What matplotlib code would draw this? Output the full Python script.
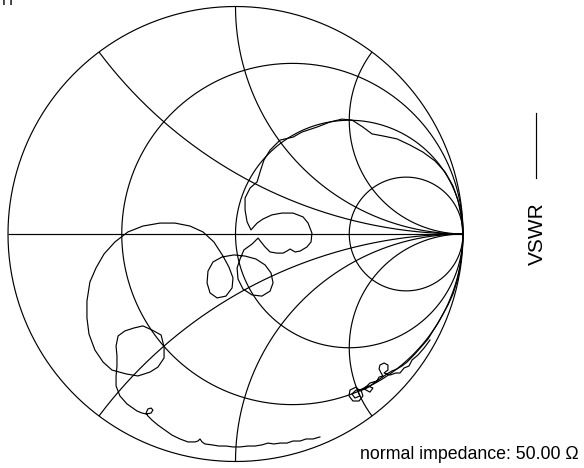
import numpy as np
import matplotlib
matplotlib.use("Agg")
import matplotlib.pyplot as plt
from matplotlib.lines import Line2D

# Smith chart grid values
resistance_circles = [1/3, 1.0, 3.0]
reactance_arcs = [0.5, 1.0, 2.0]
z0_label = "normal impedance: 50.00 \u03a9"
legend_label = "VSWR"

# Measured reflection coefficient trace (real / imaginary part of Gamma)
gamma_re = [0.371, 0.341, 0.310, 0.284, 0.253, 0.226, 0.196, 0.169, 0.143, 0.116,
            0.086, 0.055, 0.020, -0.011, -0.042, -0.073, -0.103, -0.134, -0.147, -0.156,
            -0.165, -0.178, -0.209, -0.244, -0.279, -0.310, -0.341, -0.367, -0.385, -0.393,
            -0.385, -0.371, -0.363, -0.371, -0.393, -0.411, -0.433, -0.477, -0.508, -0.525,
            -0.525, -0.521, -0.521, -0.525, -0.516, -0.486, -0.446, -0.407, -0.367, -0.327,
            -0.314, -0.314, -0.341, -0.376, -0.429, -0.481, -0.543, -0.582, -0.618, -0.644,
            -0.653, -0.653, -0.640, -0.613, -0.578, -0.530, -0.473, -0.407, -0.332, -0.266,
            -0.200, -0.143, -0.095, -0.055, -0.029, -0.011, -0.015, -0.042, -0.081, -0.112,
            -0.125, -0.121, -0.099, -0.059, -0.007, 0.042, 0.090, 0.130, 0.156, 0.165,
            0.152, 0.116, 0.073, 0.033, 0.011, 0.007, 0.020, 0.037, 0.073, 0.099,
            0.130, 0.152, 0.182, 0.209, 0.226, 0.240, 0.262, 0.284, 0.314, 0.332,
            0.336, 0.319, 0.297, 0.253, 0.204, 0.160, 0.121, 0.095, 0.068, 0.051,
            0.042, 0.042, 0.064, 0.095, 0.108, 0.125, 0.152, 0.196, 0.253, 0.292,
            0.358, 0.415, 0.468, 0.512, 0.560, 0.600, 0.648, 0.710, 0.767, 0.824,
            0.877, 0.921, 0.956, 0.978, 0.991, 1.000,
            0.996, 0.987, 0.974, 0.956, 0.934, 0.912, 0.890, 0.868, 0.846, 0.820,
            0.789, 0.754, 0.732, 0.710, 0.688, 0.666, 0.635, 0.604, 0.578, 0.547,
            0.530, 0.503, 0.499, 0.516, 0.543, 0.560, 0.552,
            0.530, 0.512, 0.525, 0.547, 0.538,
            0.582, 0.604, 0.591, 0.565, 0.591, 0.622, 0.631, 0.648,
            0.640, 0.631, 0.635, 0.653, 0.670, 0.670, 0.653,
            0.679, 0.705, 0.723, 0.741, 0.763, 0.776, 0.802, 0.829, 0.855]
gamma_im = [-0.892, -0.901, -0.901, -0.910, -0.910, -0.919, -0.919, -0.923, -0.919, -0.927,
            -0.932, -0.932, -0.936, -0.936, -0.932, -0.932, -0.927, -0.923, -0.914, -0.901,
            -0.910, -0.914, -0.914, -0.901, -0.884, -0.862, -0.840, -0.818, -0.800, -0.787,
            -0.769, -0.765, -0.774, -0.787, -0.791, -0.787, -0.778, -0.747, -0.712, -0.668,
            -0.624, -0.580, -0.536, -0.492, -0.448, -0.426, -0.413, -0.404, -0.422, -0.444,
            -0.497, -0.545, -0.585, -0.607, -0.624, -0.615, -0.598, -0.563, -0.510, -0.440,
            -0.369, -0.295, -0.211, -0.149, -0.088, -0.035, 0.009, 0.035, 0.048, 0.048,
            0.035, 0.009, -0.035, -0.097, -0.145, -0.193, -0.237, -0.273, -0.281, -0.259,
            -0.215, -0.163, -0.123, -0.101, -0.092, -0.097, -0.110, -0.136, -0.171, -0.215,
            -0.251, -0.273, -0.268, -0.242, -0.198, -0.149, -0.110, -0.070, -0.044, -0.018,
            -0.057, -0.079, -0.084, -0.084, -0.075, -0.066, -0.079, -0.075, -0.057, -0.035,
            0.004, 0.048, 0.075, 0.092, 0.092, 0.084, 0.066, 0.048, 0.018, 0.053,
            0.105, 0.158, 0.202, 0.229, 0.273, 0.325, 0.369, 0.413, 0.426, 0.448,
            0.470, 0.492, 0.505, 0.501, 0.470, 0.440, 0.431, 0.418, 0.391, 0.360,
            0.321, 0.273, 0.211, 0.149, 0.084, 0.000,
            -0.070, -0.145, -0.207, -0.264, -0.312, -0.352, -0.391, -0.426, -0.462, -0.492,
            -0.527, -0.563, -0.580, -0.593, -0.602, -0.615, -0.637, -0.659, -0.677, -0.690,
            -0.673, -0.686, -0.712, -0.734, -0.734, -0.712, -0.686,
            -0.686, -0.703, -0.721, -0.712, -0.690,
            -0.668, -0.677, -0.695, -0.681, -0.655, -0.646, -0.629, -0.624,
            -0.611, -0.593, -0.576, -0.567, -0.576, -0.598, -0.611,
            -0.620, -0.611, -0.611, -0.589, -0.580, -0.554, -0.532, -0.501, -0.466]

W, H = 584, 468
fig = plt.figure(figsize=(W / 100, H / 100), dpi=100)
fig.patch.set_facecolor("white")

cx, cy, R = 235.5, 234.0, 227.5
ax = fig.add_axes([(cx - R) / W, (H - cy - R) / H, 2 * R / W, 2 * R / H])
ax.set_xlim(-1, 1)
ax.set_ylim(-1, 1)
ax.axis("off")

lw = 0.85
kw = dict(color="black", lw=lw, clip_on=False, solid_capstyle="butt")

# outer circle
t = np.linspace(0, 2 * np.pi, 721)
ax.plot(np.cos(t), np.sin(t), **kw)
# real axis
ax.plot([-1, 1], [0, 0], **kw)

# constant resistance circles
for r in resistance_circles:
    c, rad = r / (1 + r), 1 / (1 + r)
    ax.plot(c + rad * np.cos(t), rad * np.sin(t), **kw)

# constant reactance arcs
rr = np.concatenate([np.linspace(0, 1, 200), np.logspace(0, 4, 400)])
for x in reactance_arcs:
    for s in (1, -1):
        z = rr + 1j * s * x
        g = (z - 1) / (z + 1)
        ax.plot(g.real, g.imag, **kw)

# measured trace
ax.plot(gamma_re, gamma_im, color="black", lw=lw, clip_on=False)

fam = ["Liberation Sans", "DejaVu Sans"]
fig.text(360 / W, 1 - 459 / H, z0_label, fontsize=12.8, family=fam,
         ha="left", va="baseline", color="black")

# legend (rotated)
fig.add_artist(Line2D([536 / W, 536 / W], [1 - 113 / H, 1 - 178 / H],
                      color="black", lw=lw, transform=fig.transFigure))
fig.text(537 / W, 1 - 234 / H, legend_label, rotation=90, fontsize=15,
         family=fam, ha="center", va="center", color="black")

# clipped title fragment at top-left
fig.text(2 / W, 1 - 5 / H, "H", fontsize=11, family=fam, ha="left", va="baseline")

fig.savefig("out.png", dpi=100, facecolor="white")
